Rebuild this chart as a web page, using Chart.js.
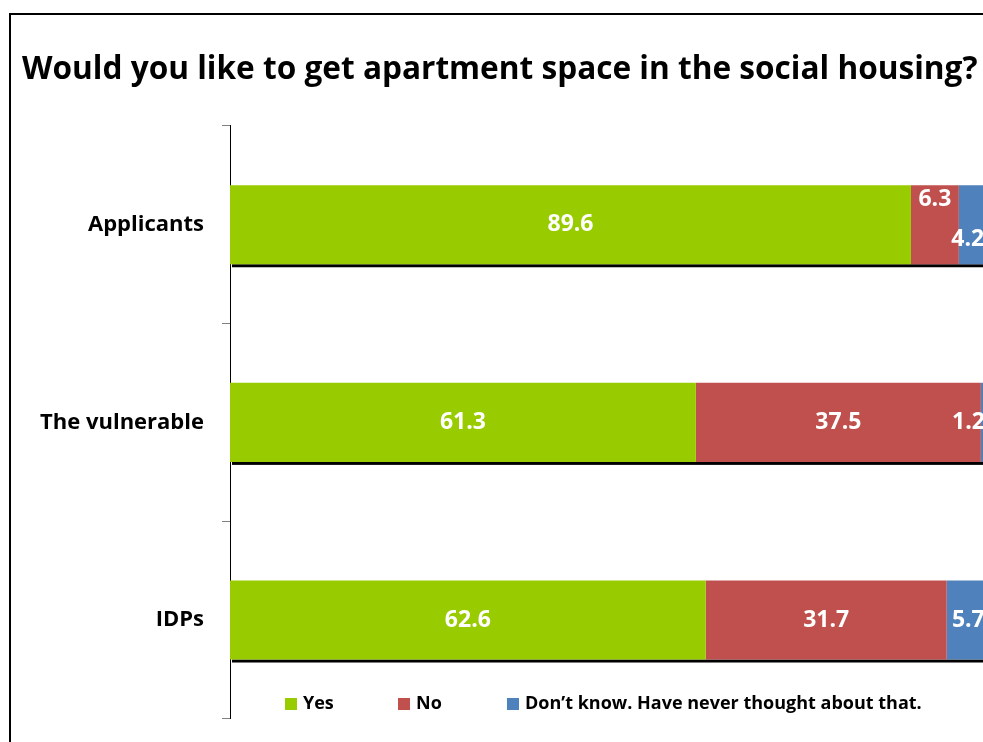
<!DOCTYPE html>
<html lang="en">
<head>
    <meta charset="UTF-8">
    <title>Social housing survey</title>
    <script src="https://cdn.jsdelivr.net/npm/chart.js"></script>
    <style>
        html, body { margin: 0; padding: 0; overflow: hidden; background: #fff; }
        /* outer frame, runs off the right and bottom edges */
        #frame {
            position: absolute; left: 9px; top: 13px;
            width: 1200px; height: 1000px;
            border-left: 2px solid #000; border-top: 2px solid #000;
        }
        #housingChart { position: absolute; left: 0; top: 0; }
    </style>
</head>
<body>

<div id="frame"></div>
<canvas id="housingChart" width="1000" height="750"></canvas>

<script>
  const groups = ['Applicants', 'The vulnerable', 'IDPs'];
  const answerNames = ['Yes', 'No', 'Don\u2019t know. Have never thought about that.'];
  const yesShare = [89.6, 61.3, 62.6];
  const noShare = [6.3, 37.5, 31.7];
  const dontKnowShare = [4.2, 1.2, 5.7];
  const answerColors = ['#99CC00', '#C0504D', '#4F81BD'];

  const FONT = "'Open Sans', 'Noto Sans', sans-serif";

  // a few labels were moved by hand so they don't collide: [dataset-point] -> [dx, dy]
  const labelNudge = { '1-0': [0, -25], '2-0': [-7, 15], '2-1': [-17, 0] };

  // black drop shadow under each whole bar
  const barShadow = {
    id: 'barShadow',
    beforeDatasetsDraw(chart) {
      const ctx = chart.ctx;
      const first = chart.getDatasetMeta(0).data;
      const last = chart.getDatasetMeta(chart.data.datasets.length - 1).data;
      ctx.save();
      ctx.fillStyle = '#000';
      first.forEach((bar, i) => {
        const h = bar.height;
        const end = last[i].x;
        ctx.fillRect(bar.base + 2, bar.y + h / 2, end - bar.base, 3);
      });
      ctx.restore();
    }
  };

  const segmentLabels = {
    id: 'segmentLabels',
    afterDatasetsDraw(chart) {
      const ctx = chart.ctx;
      ctx.save();
      ctx.fillStyle = '#fff';
      ctx.font = 'bold 23px ' + FONT;
      ctx.textAlign = 'center';
      ctx.textBaseline = 'middle';
      chart.data.datasets.forEach((ds, d) => {
        chart.getDatasetMeta(d).data.forEach((bar, i) => {
          const nudge = labelNudge[d + '-' + i] || [0, 0];
          const x = (bar.x + bar.base) / 2 + nudge[0];
          const y = bar.y + nudge[1];
          ctx.fillText(ds.data[i].toFixed(1), x, y);
        });
      });
      ctx.restore();
    }
  };

  // legend sits inside the plot, near the bottom
  const legendRow = {
    id: 'legendRow',
    afterDraw(chart) {
      const ctx = chart.ctx;
      const starts = [285, 398, 507];
      const y = 704;
      ctx.save();
      ctx.font = 'bold 18px ' + FONT;
      ctx.textBaseline = 'middle';
      ctx.textAlign = 'left';
      chart.data.datasets.forEach((ds, d) => {
        ctx.fillStyle = ds.backgroundColor;
        ctx.fillRect(starts[d], y - 6, 12, 12);
        ctx.fillStyle = '#000';
        ctx.fillText(ds.label, starts[d] + 18, y);
      });
      ctx.restore();
    }
  };

  const series = [yesShare, noShare, dontKnowShare];

  new Chart(document.getElementById('housingChart'), {
    type: 'bar',
    data: {
      labels: groups,
      datasets: series.map((values, i) => ({
        label: answerNames[i],
        data: values,
        backgroundColor: answerColors[i],
        borderWidth: 0,
        barPercentage: 0.5,
        categoryPercentage: 0.8
      }))
    },
    options: {
      indexAxis: 'y',
      responsive: false,
      animation: false,
      layout: { padding: { left: 22, right: 10, top: 0, bottom: 22 } },
      scales: {
        x: { stacked: true, min: 0, max: 100, display: false },
        y: {
          stacked: true,
          afterFit(scale) { scale.width = 208; },
          border: { color: '#000', width: 1 },
          grid: { drawOnChartArea: false, tickLength: 8, color: '#808080', offset: true },
          ticks: { color: '#000', padding: 18, font: { family: FONT, size: 22, weight: 'bold' } }
        }
      },
      plugins: {
        legend: { display: false },
        tooltip: { enabled: false },
        title: {
          display: true,
          text: 'Would you like to get apartment space in the social housing?',
          align: 'start',
          color: '#000',
          font: { family: FONT, size: 31.6, weight: 'bold' },
          padding: { top: 51, bottom: 37 }
        }
      }
    },
    plugins: [barShadow, segmentLabels, legendRow]
  });
</script>

</body>
</html>
